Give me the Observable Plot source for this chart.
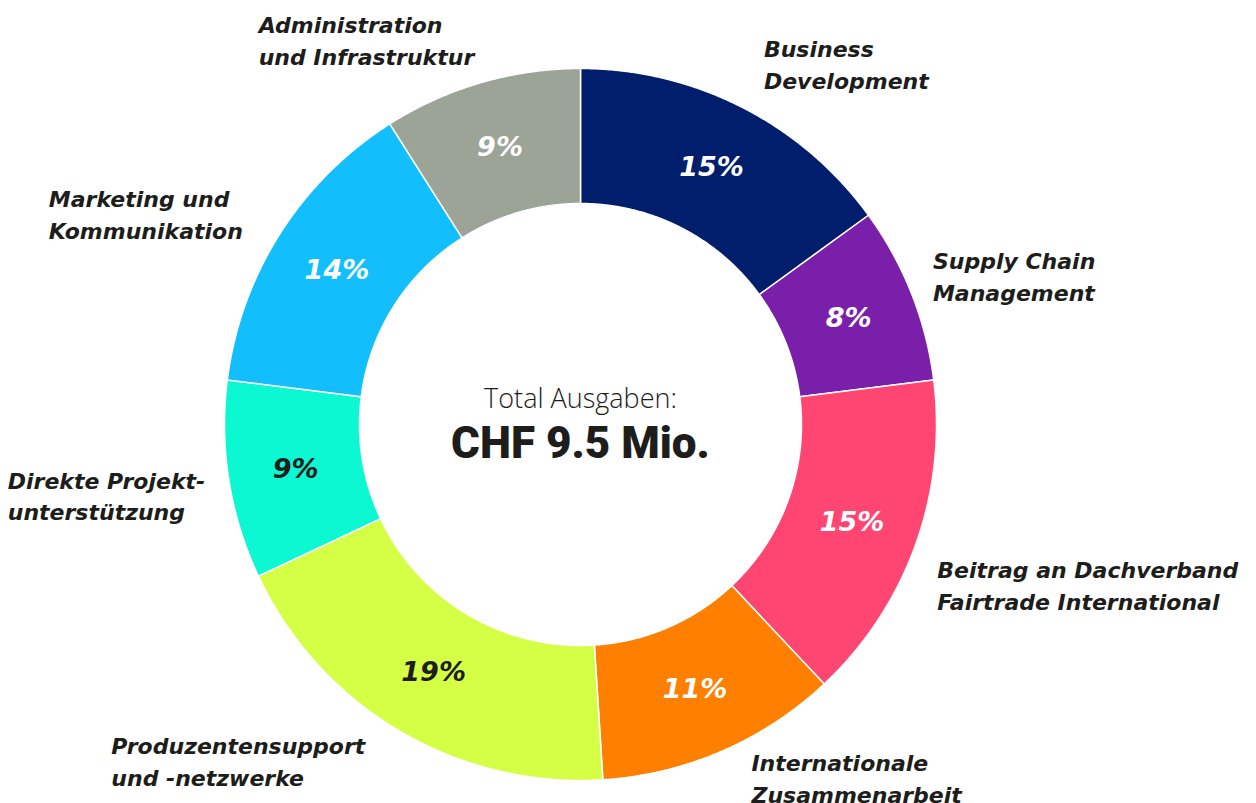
<!DOCTYPE html>
<html><head><meta charset="utf-8">
<script src="https://cdn.jsdelivr.net/npm/d3@7"></script>
<script src="https://cdn.jsdelivr.net/npm/@observablehq/plot@0.6"></script>
<style>body{margin:0;background:#fff} svg{display:block}</style>
</head><body><div id="chart"></div>
<script>
// ---- data ----
const categories = [
  "Business\nDevelopment",
  "Supply Chain\nManagement",
  "Beitrag an Dachverband\nFairtrade International",
  "Internationale\nZusammenarbeit",
  "Produzentensupport\nund -netzwerke",
  "Direkte Projekt-\nunterstützung",
  "Marketing und\nKommunikation",
  "Administration\nund Infrastruktur"
];
const shares = [15, 8, 15, 11, 19, 9, 14, 9];
const colors = ["#001e6c", "#7a1fa9", "#ff4673", "#ff8000", "#d5ff45", "#0cf8d2", "#12bffc", "#9ca397"];
const totalLabel = "Total Ausgaben:";
const totalValue = "CHF 9.5 Mio.";

// ---- layout (pixel nudges for the outside labels) ----
const labelNudge = [[4, -10], [-15, -4], [-15, 25], [14, -10], [-14, -5], [15, 8], [-4, 0], [4, -6]];
const W = 1256, H = 803, cx = 580, cy = 424, R = 356, r0 = 221;
const inner = r0 / R, mid = (1 + inner) / 2, labelR = 1.11;
const labelFont = "italic 700 22px 'DejaVu Sans'";
const ctx = document.createElement("canvas").getContext("2d");
ctx.font = labelFont;
const blockWidth = s => d3.max(s.split("\n"), l => ctx.measureText(l).width);
const total = d3.sum(shares);
let cum = 0;
const slices = categories.map((cat, i) => {
  const a0 = cum / total * 2 * Math.PI; cum += shares[i];
  const a1 = cum / total * 2 * Math.PI;
  const am = (a0 + a1) / 2;
  // all labels are left-aligned; left-side ones end near the ring
  const shift = Math.sin(am) < 0 ? -blockWidth(cat) : 0;
  return {cat, value: shares[i], a0, a1, am, color: colors[i], dx: labelNudge[i][0] + shift, dy: labelNudge[i][1]};
});
const pts = [];
for (const s of slices) {
  const n = Math.max(2, Math.ceil((s.a1 - s.a0) / 0.004));
  for (let k = 0; k <= n; k++) { const a = s.a0 + (s.a1 - s.a0) * k / n; pts.push({cat: s.cat, x: Math.sin(a), y: -Math.cos(a)}); }
  for (let k = n; k >= 0; k--) { const a = s.a0 + (s.a1 - s.a0) * k / n; pts.push({cat: s.cat, x: inner * Math.sin(a), y: -inner * Math.cos(a)}); }
}
const chart = Plot.plot({
  width: W, height: H, margin: 0,
  x: {domain: [-cx / R, (W - cx) / R], range: [0, W], axis: null},
  y: {domain: [-cy / R, (H - cy) / R], range: [0, H], axis: null},
  color: {domain: categories, range: colors},
  style: {fontFamily: "'DejaVu Sans', sans-serif", background: "white"},
  marks: [
    Plot.line(pts, {x: "x", y: "y", z: "cat", fill: "cat", stroke: "white", strokeWidth: 1.5, curve: "linear-closed"}),
    Plot.text(slices, {
      x: d => mid * Math.sin(d.am), y: d => -mid * Math.cos(d.am),
      text: d => d.value + "%",
      fill: d => d3.lab(d.color).l > 80 ? "#1d1d1b" : "#ffffff",
      fontSize: 27, fontWeight: 700, fontStyle: "italic"
    }),
    Plot.text(slices, {
      x: d => labelR * Math.sin(d.am) + d.dx / R, y: d => -labelR * Math.cos(d.am) + d.dy / R,
      text: "cat", textAnchor: "start", lineAnchor: "middle", lineHeight: 1.45,
      fill: "#1d1d1b", fontSize: 22, fontWeight: 700, fontStyle: "italic"
    }),
    Plot.text([totalLabel], {x: () => 0, y: () => 0, text: d => d, dy: -25, fontSize: 27, fontWeight: 300, fill: "#1d1d1b", fontFamily: "'Open Sans', sans-serif", style: "letter-spacing:2.2px"}),
    Plot.text([totalValue], {x: () => 0, y: () => 0, text: d => d, dy: 19, fontSize: 44, fontWeight: 900, fill: "#1d1d1b", fontFamily: "Roboto, sans-serif", style: "letter-spacing:-2.5px"})
  ]
});
document.getElementById("chart").append(chart);
</script>
</body></html>
